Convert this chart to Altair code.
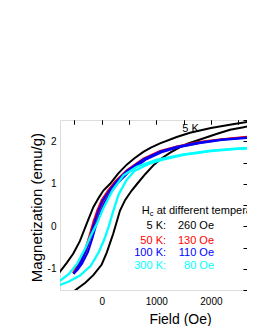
import altair as alt
import pandas as pd

# ---- data ----
temps = ["5 K", "50 K", "100 K", "300 K"]
colors = ["#000000", "#ff0000", "#0000ff", "#00ffff"]
hc_labels = ["5 K:", "50 K:", "100 K:", "300 K:"]
hc_values = ["260 Oe", "130 Oe", "110 Oe", "80 Oe"]

k5_desc_x = [-800, -764, -640, -520, -400, -275, -154, -50, 30, 154, 300, 458, 600, 762, 900, 1068, 1374, 1617, 2000, 2400, 2808, 3200]
k5_desc_y = [-1.13, -1.07, -0.86, -0.64, -0.35, 0.06, 0.45, 0.68, 0.84, 1.0, 1.24, 1.45, 1.6, 1.75, 1.85, 1.95, 2.1, 2.2, 2.31, 2.4, 2.48, 2.55]
k5_asc_x = [-500, -300, -154, 0, 92, 212, 335, 430, 549, 650, 800, 958, 1100, 1262, 1420, 1570, 1870, 2100, 2350, 2600, 2808, 3200]
k5_asc_y = [-1.52, -1.33, -1.15, -0.9, -0.62, -0.17, 0.37, 0.62, 0.84, 1.0, 1.23, 1.45, 1.6, 1.74, 1.85, 1.94, 2.07, 2.17, 2.27, 2.33, 2.38, 2.45]

k50_desc_x = [-525, -480, -400, -306, -230, -154, -80, 0, 121, 250, 458, 762, 1068, 1374, 1770, 2200, 2800, 3200]
k50_desc_y = [-1.1, -1.0, -0.83, -0.56, -0.24, 0.1, 0.38, 0.62, 0.85, 1.06, 1.32, 1.59, 1.77, 1.88, 1.98, 2.05, 2.12, 2.14]
k50_asc_x = [-525, -470, -380, -280, -200, -120, -50, 30, 150, 280, 480, 780, 1080, 1380, 1780, 2200, 2800, 3200]
k50_asc_y = [-1.1, -1.02, -0.85, -0.58, -0.26, 0.08, 0.36, 0.6, 0.83, 1.04, 1.3, 1.57, 1.75, 1.86, 1.96, 2.04, 2.11, 2.13]

k100_desc_x = [-515, -465, -385, -290, -212, -136, -62, 18, 138, 266, 470, 770, 1075, 1378, 1775, 2200, 2800, 3200]
k100_desc_y = [-1.12, -1.02, -0.85, -0.57, -0.25, 0.09, 0.37, 0.61, 0.84, 1.05, 1.31, 1.58, 1.76, 1.87, 1.97, 2.04, 2.1, 2.12]
k100_asc_x = [-515, -450, -360, -250, -170, -95, -20, 60, 175, 300, 500, 800, 1095, 1390, 1785, 2200, 2800, 3200]
k100_asc_y = [-1.12, -1.04, -0.88, -0.6, -0.28, 0.06, 0.34, 0.58, 0.81, 1.02, 1.28, 1.56, 1.74, 1.85, 1.95, 2.03, 2.09, 2.11]

k300_desc_x = [-900, -764, -600, -450, -300, -200, -90, 20, 200, 400, 641, 1000, 1500, 2000, 2500, 3000, 3200]
k300_desc_y = [-1.36, -1.28, -1.12, -0.88, -0.52, -0.22, 0.05, 0.4, 0.85, 1.2, 1.4, 1.56, 1.69, 1.78, 1.83, 1.86, 1.87]
k300_asc_x = [-900, -764, -600, -400, -200, -50, 50, 130, 210, 310, 450, 600, 850, 1100, 1500, 2000, 2500, 3000, 3200]
k300_asc_y = [-1.44, -1.38, -1.3, -1.16, -0.93, -0.6, -0.3, 0.0, 0.35, 0.75, 1.08, 1.3, 1.46, 1.56, 1.68, 1.77, 1.82, 1.85, 1.86]

x_ticks = [-500, 0, 500, 1000, 1500, 2000, 2500]
x_labels = [0, 1000, 2000]
y_ticks = [-1.5, -1.0, -0.5, 0.0, 0.5, 1.0, 1.5, 2.0, 2.5]
y_labels = [-1, 0, 1, 2]

# annotation anchors (data units)
title_pos = (733, 0.36)
row_label_x = 1178
row_value_x = 2057
row_y = [0.0, -0.35, -0.64, -0.94]
curve_label_pos = (1626, 2.28)

FONT = "Liberation Sans"

branches = [
    ("5 K", "d", k5_desc_x, k5_desc_y), ("5 K", "a", k5_asc_x, k5_asc_y),
    ("50 K", "d", k50_desc_x, k50_desc_y), ("50 K", "a", k50_asc_x, k50_asc_y),
    ("100 K", "d", k100_desc_x, k100_desc_y), ("100 K", "a", k100_asc_x, k100_asc_y),
    ("300 K", "d", k300_desc_x, k300_desc_y), ("300 K", "a", k300_asc_x, k300_asc_y),
]
rows = []
for t, b, xs, ys in branches:
    for i, (xv, yv) in enumerate(zip(xs, ys)):
        rows.append({"temp": t, "branch": t + b, "x": xv, "y": yv, "i": i})
df = pd.DataFrame(rows)

xscale = alt.Scale(domain=[-764, 2661], nice=False, zero=False)
yscale = alt.Scale(domain=[-1.5, 2.5], nice=False, zero=False)
cscale = alt.Scale(domain=temps, range=colors)

main_x_axis = alt.Axis(values=x_labels, labelExpr="datum.value + ''", ticks=False, domain=False,
                       grid=False, labelFontSize=10, labelFont=FONT, labelColor="black",
                       labelPadding=6, title="Field (Oe)", titleFont=FONT, titleFontSize=14,
                       titleFontWeight="normal", titleColor="black", titleY=22, titleX=120,
                       titleBaseline="top", titleAnchor="middle",
                       labelFlush=False, labelOverlap=False, labelBound=False)
main_y_axis = alt.Axis(values=y_labels, labelExpr="datum.value + ''", ticks=False, domain=False,
                       grid=False, labelFontSize=10, labelFont=FONT, labelColor="black",
                       labelPadding=4, title="Magnetization (emu/g)", titleFont=FONT,
                       titleFontSize=15, titleFontWeight="normal", titleColor="black",
                       titlePadding=3, titleY=87, titleAnchor="middle", labelFlush=False)
tick_x_axis = alt.Axis(values=x_ticks, labels=False, ticks=True, tickSize=4, tickColor="black",
                       offset=-4, domain=False, grid=False, title=None)
tick_y_axis = alt.Axis(values=y_ticks, labels=False, ticks=True, tickSize=4, tickColor="black",
                       offset=-4, domain=False, grid=False, title=None)
top_x_axis = alt.Axis(orient="top", values=x_ticks, labels=False, ticks=True, tickSize=4,
                      tickColor="black", offset=-4, domain=False, grid=False, title=None)

layers = []
for k, t in enumerate(temps):
    sub = df[df.temp == t]
    layer = alt.Chart(sub).mark_line(strokeWidth=2 if t != "300 K" else 2.3, clip=True).encode(
        x=alt.X("x:Q", scale=xscale, axis=main_x_axis if k == 0 else None),
        y=alt.Y("y:Q", scale=yscale, axis=main_y_axis if k == 0 else None),
        color=alt.Color("temp:N", scale=cscale, legend=None),
        detail="branch:N",
        order="i:Q",
    )
    layers.append(layer)

ann_rows = pd.DataFrame({
    "temp": temps, "label": hc_labels, "value": hc_values,
    "y": row_y, "xl": [row_label_x] * 4, "xv": [row_value_x] * 4,
})

label_layer = alt.Chart(ann_rows).mark_text(align="right", baseline="middle", font=FONT, fontSize=11).encode(
    x=alt.X("xl:Q", scale=xscale, axis=tick_x_axis),
    y=alt.Y("y:Q", scale=yscale, axis=tick_y_axis),
    text="label:N",
    color=alt.Color("temp:N", scale=cscale, legend=None),
)
value_layer = alt.Chart(ann_rows).mark_text(align="right", baseline="middle", font=FONT, fontSize=11).encode(
    x=alt.X("xv:Q", scale=xscale, axis=top_x_axis),
    y=alt.Y("y:Q", scale=yscale, axis=None),
    text="value:N",
    color=alt.Color("temp:N", scale=cscale, legend=None),
)

title_df = pd.DataFrame({"x": [title_pos[0]], "y": [title_pos[1]]})
h_layer = alt.Chart(title_df).mark_text(align="left", baseline="middle", font=FONT, fontSize=11, color="black", text="H").encode(
    x=alt.X("x:Q", scale=xscale, axis=None), y=alt.Y("y:Q", scale=yscale, axis=None))
c_layer = alt.Chart(title_df).mark_text(align="left", baseline="middle", font=FONT, fontSize=7.5, color="black", text="c", dx=8, dy=3).encode(
    x=alt.X("x:Q", scale=xscale, axis=None), y=alt.Y("y:Q", scale=yscale, axis=None))
rest_layer = alt.Chart(title_df).mark_text(align="left", baseline="middle", font=FONT, fontSize=11, color="black", text="at different temperature", dx=15).encode(
    x=alt.X("x:Q", scale=xscale, axis=None), y=alt.Y("y:Q", scale=yscale, axis=None))

curve_df = pd.DataFrame({"x": [curve_label_pos[0]], "y": [curve_label_pos[1]], "t": ["5 K"]})
curve_label = alt.Chart(curve_df).mark_text(align="center", baseline="middle", font=FONT, fontSize=11, color="black").encode(
    x=alt.X("x:Q", scale=xscale, axis=None), y=alt.Y("y:Q", scale=yscale, axis=None), text="t:N")

chart = alt.layer(*layers, label_layer, value_layer, h_layer, c_layer, rest_layer, curve_label).resolve_axis(
    x="independent", y="independent"
).properties(
    width=187, height=170,
    autosize=alt.AutoSizeParams(type="none"),
    padding={"left": 52, "top": 112, "right": 0, "bottom": 36},
).configure_view(stroke="black", strokeWidth=1).configure(background="white")

chart.save("out.html", embed_options={"renderer": "svg", "actions": False})
